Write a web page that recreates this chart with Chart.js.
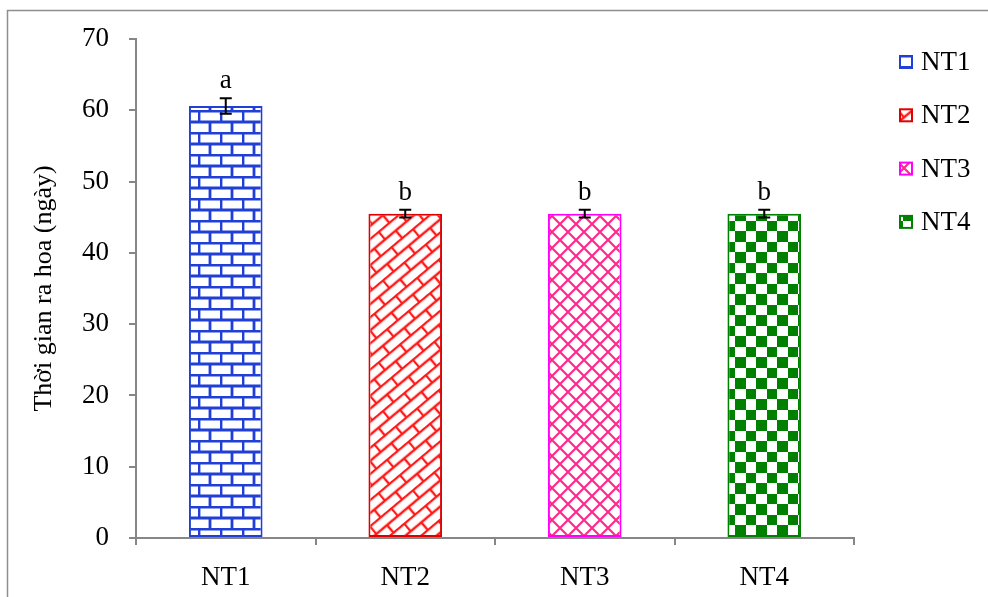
<!DOCTYPE html>
<html>
<head>
<meta charset="utf-8">
<script src="https://cdn.jsdelivr.net/npm/chart.js@4"></script>
<style>
  html, body { margin: 0; padding: 0; background: #fff; }
  #wrap { width: 988px; height: 597px; }
</style>
</head>
<body>
<div id="wrap"><canvas id="c" width="988" height="597"></canvas></div>
<script>
const categories = ['NT1', 'NT2', 'NT3', 'NT4'];
const values = [60.6, 45.5, 45.5, 45.5];
const errors = [1.1, 0.55, 0.55, 0.55];
const letters = ['a', 'b', 'b', 'b'];
const yTicks = [0, 10, 20, 30, 40, 50, 60, 70];

const colors = ['#1f3fd6', '#e00000', '#ff00ff', '#008000'];
const FONT = "'Liberation Serif', 'Times New Roman', serif";

// build the hatch patterns
function tile(w, h, draw) {
  const c = document.createElement('canvas');
  c.width = w; c.height = h;
  const g = c.getContext('2d');
  g.fillStyle = '#fff';
  g.fillRect(0, 0, w, h);
  draw(g, w, h);
  return c;
}

const ctxMain = document.getElementById('c').getContext('2d');

function brick(color, w, h, lw) {
  return tile(w, h * 2, (g) => {
    g.strokeStyle = color;
    g.lineWidth = lw;
    g.beginPath();
    g.moveTo(0, 1); g.lineTo(w, 1);
    g.moveTo(0, h + 1); g.lineTo(w, h + 1);
    g.moveTo(1, 0); g.lineTo(1, h + 1);
    g.moveTo(w / 2 + 1, h + 1); g.lineTo(w / 2 + 1, h * 2);
    g.stroke();
  });
}

const pBrick = ctxMain.createPattern(brick('#1f3fd6', 22, 11, 2.8), 'repeat');

const pDiag = ctxMain.createPattern(brick('#ff1a1a', 28, 10, 2.4), 'repeat');
pDiag.setTransform(new DOMMatrix().rotate(-40));

const pLattice = ctxMain.createPattern(tile(16, 16, (g) => {
  g.strokeStyle = '#ff2a8a';
  g.lineWidth = 2.2;
  g.beginPath();
  g.moveTo(-2, -2); g.lineTo(18, 18);
  g.moveTo(18, -2); g.lineTo(-2, 18);
  g.stroke();
}), 'repeat');

const pCheck = ctxMain.createPattern(tile(21, 21, (g) => {
  g.fillStyle = '#008000';
  g.fillRect(0, 0, 11, 11);
  g.fillRect(11, 11, 10, 10);
}), 'repeat');

const patterns = [pBrick, pDiag, pLattice, pCheck];

// outer frame + white background
const framePlugin = {
  id: 'frame',
  beforeDraw(chart) {
    const g = chart.ctx;
    g.save();
    g.fillStyle = '#fff';
    g.fillRect(0, 0, chart.width, chart.height);
    g.strokeStyle = '#8e8e8e';
    g.lineWidth = 1.5;
    g.strokeRect(7.5, 10.5, 1000, 600);
    g.restore();
  }
};

// error bars and letters above bars
const errorPlugin = {
  id: 'errs',
  afterDatasetsDraw(chart) {
    const g = chart.ctx;
    const meta = chart.getDatasetMeta(0);
    const y = chart.scales.y;
    g.save();
    g.strokeStyle = '#000';
    g.lineWidth = 2;
    g.fillStyle = '#000';
    g.font = '27px ' + FONT;
    g.textAlign = 'center';
    g.textBaseline = 'alphabetic';
    meta.data.forEach((bar, i) => {
      const x = bar.x;
      const top = y.getPixelForValue(values[i] + errors[i]);
      const bot = y.getPixelForValue(values[i] - errors[i]);
      g.beginPath();
      g.moveTo(x, top); g.lineTo(x, bot);
      g.moveTo(x - 6, top); g.lineTo(x + 6, top);
      g.moveTo(x - 6, bot); g.lineTo(x + 6, bot);
      g.stroke();
      g.fillText(letters[i], x, top - 10);
    });
    g.restore();
  }
};

// legend on the right
const legendPlugin = {
  id: 'sideLegend',
  afterDraw(chart) {
    const g = chart.ctx;
    g.save();
    g.font = '27px ' + FONT;
    g.textBaseline = 'middle';
    g.textAlign = 'left';
    categories.forEach((name, i) => {
      const cy = 62 + i * 53.3;
      g.fillStyle = patterns[i];
      g.fillRect(900, cy - 6, 12, 12);
      g.strokeStyle = colors[i];
      g.lineWidth = 2;
      g.strokeRect(900, cy - 6, 12, 12);
      g.fillStyle = '#000';
      g.fillText(name, 921, cy + 1);
    });
    g.restore();
  }
};

function draw() {
  new Chart(ctxMain, {
    type: 'bar',
    data: {
      labels: categories,
      datasets: [{
        data: values,
        backgroundColor: patterns,
        borderColor: colors,
        borderWidth: 2,
        borderSkipped: false,
        categoryPercentage: 1,
        barPercentage: 0.41
      }]
    },
    options: {
      responsive: false,
      animation: false,
      events: [],
      layout: { padding: { top: 39, right: 134, left: 0, bottom: 0 } },
      plugins: {
        legend: { display: false },
        tooltip: { enabled: false }
      },
      scales: {
        x: {
          afterFit: (s) => { s.height = 59; },
          grid: { drawOnChartArea: false, color: '#868686', lineWidth: 2, tickLength: 7 },
          border: { color: '#868686', width: 2 },
          ticks: { color: '#000', font: { family: FONT, size: 27 }, padding: 17 }
        },
        y: {
          min: 0,
          max: 70,
          afterFit: (s) => { s.width = 136; },
          afterBuildTicks: (s) => { s.ticks = yTicks.map(v => ({ value: v })); },
          grid: { drawOnChartArea: false, color: '#868686', lineWidth: 2, tickLength: 7 },
          border: { color: '#868686', width: 2 },
          ticks: { color: '#000', font: { family: FONT, size: 27 }, padding: 20 },
          title: {
            display: true,
            text: 'Thời gian ra hoa (ngày)',
            color: '#000',
            font: { family: FONT, size: 26 },
            padding: { top: 29, bottom: 0 }
          }
        }
      }
    },
    plugins: [framePlugin, errorPlugin, legendPlugin]
  });
}

if (document.fonts && document.fonts.load) {
  document.fonts.load('27px "Liberation Serif"').then(draw, draw);
} else {
  draw();
}
</script>
</body>
</html>
